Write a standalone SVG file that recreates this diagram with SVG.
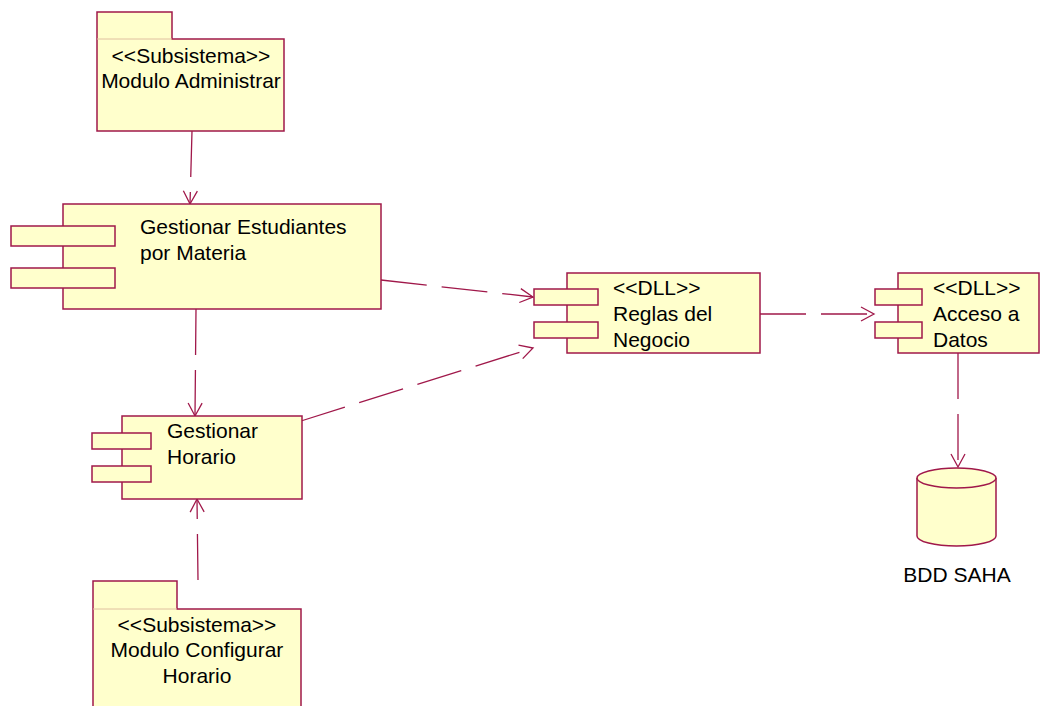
<svg xmlns="http://www.w3.org/2000/svg" width="1041" height="706" viewBox="0 0 1041 706">
<style>
.b{fill:#ffffcc;stroke:#a0184a;stroke-width:1.5}
.t{font-family:"Liberation Sans",Arial,sans-serif;font-size:21px;fill:#000}
.c{fill:none;stroke:#a0184a;stroke-width:1.3}
.d{stroke-dasharray:46 15}
</style>
<defs>
<marker id="a" viewBox="-14 -8 16 16" refX="0" refY="0" markerWidth="16" markerHeight="16" markerUnits="userSpaceOnUse" orient="auto">
<path d="M-13,-7 L0,0 L-13,7" fill="none" stroke="#a0184a" stroke-width="1.3"/>
</marker>
</defs>
<rect width="1041" height="706" fill="#fff"/>
<g id="connectors">
<line class="c d" x1="192" y1="131" x2="190" y2="204" marker-end="url(#a)"/>
<line class="c d" x1="381" y1="280" x2="533" y2="297" marker-end="url(#a)"/>
<line class="c d" x1="196" y1="309" x2="195" y2="416" marker-end="url(#a)"/>
<line class="c d" x1="301" y1="421" x2="533" y2="348" marker-end="url(#a)"/>
<line class="c d" x1="760" y1="314" x2="874" y2="314" marker-end="url(#a)"/>
<line class="c d" x1="958" y1="353" x2="958" y2="467" marker-end="url(#a)"/>
<line class="c d" x1="198" y1="580" x2="197" y2="499" marker-end="url(#a)"/>
</g>
<g id="modulo-administrar">
<path class="b" d="M97,12 H172 V39 H284 V131 H97 Z"/>
<line x1="97" y1="39" x2="172" y2="39" stroke="#e0c0a0" stroke-width="1"/>
<text class="t" x="191" y="63" text-anchor="middle">&lt;&lt;Subsistema&gt;&gt;</text>
<text class="t" x="191" y="88" text-anchor="middle">Modulo Administrar</text>
</g>
<g id="gestionar-estudiantes">
<rect class="b" x="63" y="204" width="318" height="105"/>
<rect class="b" x="11" y="226" width="104" height="20"/>
<rect class="b" x="11" y="268" width="104" height="20"/>
<text class="t" x="140" y="234">Gestionar Estudiantes</text>
<text class="t" x="140" y="260">por Materia</text>
</g>
<g id="reglas-negocio">
<rect class="b" x="567" y="273" width="193" height="80"/>
<rect class="b" x="534" y="289" width="64" height="16"/>
<rect class="b" x="534" y="322" width="64" height="16"/>
<text class="t" x="613" y="295">&lt;&lt;DLL&gt;&gt;</text>
<text class="t" x="613" y="321">Reglas del</text>
<text class="t" x="613" y="347">Negocio</text>
</g>
<g id="acceso-datos">
<rect class="b" x="898" y="273" width="141" height="80"/>
<rect class="b" x="875" y="289" width="47" height="16"/>
<rect class="b" x="875" y="322" width="47" height="16"/>
<text class="t" x="933" y="295">&lt;&lt;DLL&gt;&gt;</text>
<text class="t" x="933" y="321">Acceso a</text>
<text class="t" x="933" y="347">Datos</text>
</g>
<g id="gestionar-horario">
<rect class="b" x="122" y="416" width="180" height="83"/>
<rect class="b" x="92" y="433" width="59" height="16"/>
<rect class="b" x="92" y="466" width="59" height="16"/>
<text class="t" x="167" y="438">Gestionar</text>
<text class="t" x="167" y="464">Horario</text>
</g>
<g id="modulo-configurar">
<path class="b" d="M93,581 H177 V609 H301 V720 H93 Z"/>
<line x1="93" y1="609" x2="177" y2="609" stroke="#e0c0a0" stroke-width="1"/>
<text class="t" x="197" y="632" text-anchor="middle">&lt;&lt;Subsistema&gt;&gt;</text>
<text class="t" x="197" y="657" text-anchor="middle">Modulo Configurar</text>
<text class="t" x="197" y="683" text-anchor="middle">Horario</text>
</g>
<g id="bdd-saha">
<path class="b" d="M917,478 V536 A39.5,10 0 0 0 996,536 V478"/>
<ellipse class="b" cx="956.5" cy="478" rx="39.5" ry="10"/>
<text class="t" x="957" y="582" text-anchor="middle">BDD SAHA</text>
</g>
</svg>
